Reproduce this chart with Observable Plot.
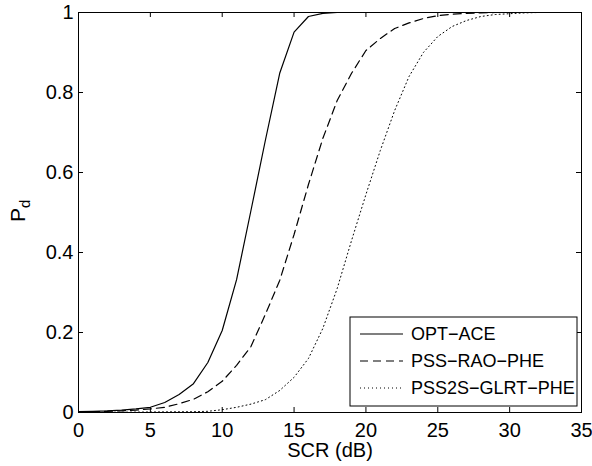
<!DOCTYPE html>
<html><head><meta charset="utf-8">
<script src="https://cdn.jsdelivr.net/npm/d3@7"></script>
<script src="https://cdn.jsdelivr.net/npm/@observablehq/plot@0.6"></script>
<style>body{margin:0;background:#fff} svg{font-family:"Liberation Sans",Arial,sans-serif}</style>
</head><body><div id="chart"></div>
<script>
const scr = [0,1,2,3,4,5,6,7,8,9,10,11,12,13,14,15,16,17,18,19,20,21,22,23,24,25,26,27,28,29,30,31,32,33,34,35];
const optAce = [0.002,0.003,0.004,0.006,0.009,0.013,0.025,0.045,0.072,0.125,0.205,0.332,0.505,0.68,0.848,0.951,0.99,0.998,1,1,1,1,1,1,1,1,1,1,1,1,1,1,1,1,1,1];
const pssRao = [0.001,0.002,0.003,0.004,0.006,0.009,0.013,0.022,0.033,0.052,0.078,0.118,0.165,0.245,0.33,0.445,0.57,0.685,0.78,0.848,0.905,0.935,0.96,0.974,0.985,0.992,0.996,0.998,0.999,1,1,1,1,1,1,1];
const pss2s = [0.0002,0.0003,0.0005,0.0007,0.001,0.0013,0.0016,0.0019,0.002,0.003,0.007,0.013,0.021,0.032,0.055,0.088,0.135,0.21,0.31,0.43,0.545,0.655,0.755,0.84,0.9,0.94,0.965,0.98,0.99,0.995,0.997,0.999,1,1,1,1];
const seriesNames = ["OPT\u2212ACE","PSS\u2212RAO\u2212PHE","PSS2S\u2212GLRT\u2212PHE"];
const xTicks = [0,5,10,15,20,25,30,35];
const xTickLabels = ["0","5","10","15","20","25","30","35"];
const yTicks = [0,0.2,0.4,0.6,0.8,1];
const yTickLabels = ["0","0.2","0.4","0.6","0.8","1"];
const xLabel = "SCR (dB)";

const W = 592, H = 466, mL = 78, mR = 11, mT = 12, mB = 54;
const innerW = W - mL - mR, innerH = H - mT - mB;
const FONT = "'Liberation Sans', Arial, Helvetica, sans-serif";

const allSeries = [optAce, pssRao, pss2s];
const rows = [];
allSeries.forEach((vals, s) => vals.forEach((v, i) => rows.push({scr: scr[i], pd: v, series: seriesNames[s]})));
const styles = [
  {strokeWidth: 1.2, dash: null},
  {strokeWidth: 1.2, dash: "8,5"},
  {strokeWidth: 1, dash: "1,3"}
];

const plot = Plot.plot({
  width: W, height: H,
  marginLeft: mL, marginRight: mR, marginTop: mT, marginBottom: mB,
  style: {fontFamily: FONT, fontSize: "20px", color: "black", background: "white", overflow: "visible"},
  x: {domain: [0, 35]},
  y: {domain: [0, 1]},
  marks: [
    ...seriesNames.map((name, s) => Plot.line(rows.filter(r => r.series === name), {
      x: "scr", y: "pd", stroke: "black", strokeWidth: styles[s].strokeWidth,
      strokeDasharray: styles[s].dash, clip: true
    })),
    Plot.frame({stroke: "black", strokeWidth: 1}),
    Plot.tickX(xTicks, {x: d => d, insetTop: innerH - 5, stroke: "black"}),
    Plot.tickX(xTicks, {x: d => d, insetBottom: innerH - 5, stroke: "black"}),
    Plot.tickY(yTicks, {y: d => d, insetRight: innerW - 5, stroke: "black"}),
    Plot.tickY(yTicks, {y: d => d, insetLeft: innerW - 5, stroke: "black"}),
    Plot.axisX({ticks: xTicks, tickSize: 0, tickPadding: 10, label: null, fontSize: 20,
      tickFormat: d => xTickLabels[xTicks.indexOf(d)]}),
    Plot.axisY({ticks: yTicks, tickSize: 0, tickPadding: 5, label: null, fontSize: 20,
      tickFormat: d => yTickLabels[yTicks.indexOf(d)]}),
    Plot.text([xLabel], {frameAnchor: "bottom", lineAnchor: "middle", dy: 38, fontSize: 20, fill: "black"})
  ]
});
document.getElementById("chart").appendChild(plot);

const svg = d3.select(plot);
// y label P_d
const yl = svg.append("text")
  .attr("transform", "translate(25,222) rotate(-90)")
  .attr("text-anchor", "start")
  .attr("fill", "black").style("font-family", FONT).style("font-size", "21px");
yl.append("tspan").text("P");
yl.append("tspan").attr("dy", 5).style("font-size", "15px").text("d");

// legend
const lg = svg.append("g").style("font-family", FONT).style("font-size", "18px").attr("text-anchor", "start");
const lx = 350, ly = 317, lw = 227, lh = 89;
lg.append("rect").attr("x", lx).attr("y", ly).attr("width", lw).attr("height", lh)
  .attr("fill", "white").attr("stroke", "black").attr("stroke-width", 1);
const rowY = [334, 361, 388];
seriesNames.forEach((name, s) => {
  lg.append("line").attr("x1", 360).attr("x2", 403).attr("y1", rowY[s]).attr("y2", rowY[s])
    .attr("stroke", "black").attr("stroke-width", styles[s].strokeWidth)
    .attr("stroke-dasharray", styles[s].dash);
  lg.append("text").attr("x", 411).attr("y", rowY[s]).attr("dy", "0.35em").attr("fill", "black").text(name);
});
</script></body></html>
